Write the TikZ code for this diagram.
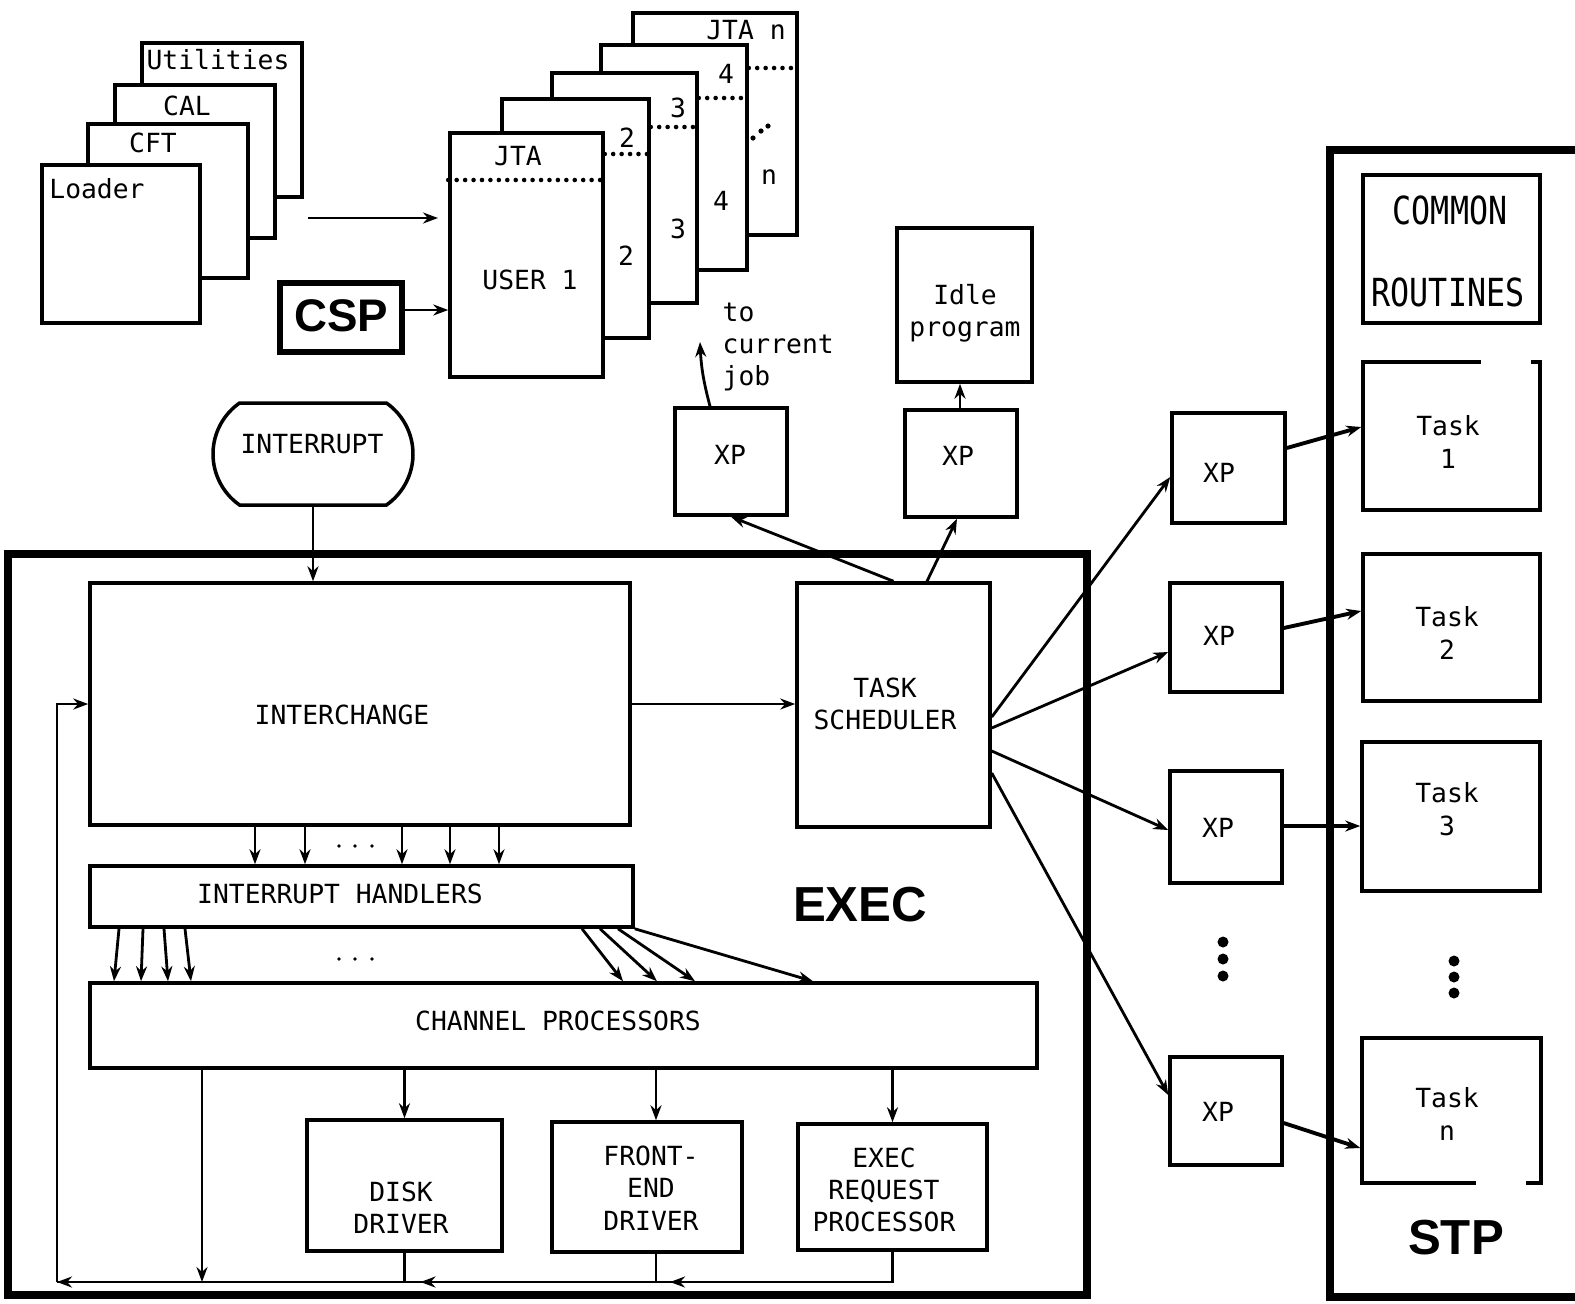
\documentclass[tikz,border=0pt]{standalone}
\usepackage{fontspec}
\usepackage{graphicx}
\newfontfamily\labfont{DejaVu Sans Mono}
\newfontfamily\hvfont{Liberation Sans}
\usetikzlibrary{arrows.meta,shapes.misc,fit,calc}
\begin{document}
\begin{tikzpicture}[x=0.1mm,y=-0.1mm,
  box/.style={draw,line width=1pt,fill=white,inner sep=0pt},
  lbl/.style={font=\labfont\fontsize{7.5}{9.2}\selectfont,align=center,inner sep=0pt},
  biglbl/.style={font=\hvfont\bfseries\fontsize{14}{16}\selectfont,inner sep=0pt},
  arr/.style={-{Stealth[length=1.5mm,width=1.1mm]},line width=0.8pt},
  tarr/.style={-{Stealth[length=1.5mm,width=1.1mm]},line width=1.1pt},
  jsep/.style={line width=1.3pt,dash pattern=on 0pt off 2.4pt,line cap=round},
  heavy/.style={line width=2.2pt},
  plain/.style={line width=0.8pt}]
\useasboundingbox (0,0) rectangle (1575,1303);

% ---------- loader stack ----------
\node[box,fit={(142,43) (302,197)}] (util) {};
\node[box,fit={(115,85) (275,238)}] (cal) {};
\node[box,fit={(88,124) (248,278)}] (cft) {};
\node[box,fit={(42,165) (200,323)}] (loader) {};
\node[lbl] (tutil) at (218,60) {Utilities};
\node[lbl] (tcal) at (187,106) {CAL};
\node[lbl] (tcft) at (153,143) {CFT};
\node[lbl] (tloader) at (97,189) {Loader};

\coordinate (a1) at (308,218);
\coordinate (a2) at (438,218);
\draw[arr] (a1) -- (a2);

% ---------- CSP ----------
\node[draw,line width=1.9pt,inner sep=0pt,fit={(280,283) (402,352)}] (csp) {};
\node[font=\hvfont\bfseries\fontsize{13}{15}\selectfont,inner sep=0pt] (tcsp) at (341,316) {CSP};

% ---------- JTA stack ----------
\node[box,fit={(633,13) (797,235)}] (jn) {};
\node[box,fit={(601,45) (747,270)}] (j4) {};
\node[box,fit={(552,73) (697,303)}] (j3) {};
\node[box,fit={(502,99) (649,338)}] (j2) {};
\node[box,fit={(450,133) (603,377)}] (user1) {};
\draw[jsep] (user1.west |- 0,180) -- (user1.east |- 0,180);
\draw[jsep] (user1.east |- 0,154) -- (j2.east |- 0,154);
\draw[jsep] (j2.east |- 0,127) -- (j3.east |- 0,127);
\draw[jsep] (j3.east |- 0,98) -- (j4.east |- 0,98);
\draw[jsep] (j4.east |- 0,68) -- (jn.east |- 0,68);
\node[lbl] (tjta) at (518,156) {JTA};
\node[lbl] (tuser) at (530,280) {USER 1};
\node[lbl] (t2a) at (627,138) {2};
\node[lbl] (t2b) at (626,256) {2};
\node[lbl] (t3a) at (678,108) {3};
\node[lbl] (t3b) at (678,229) {3};
\node[lbl] (t4a) at (726,74) {4};
\node[lbl] (t4b) at (721,201) {4};
\node[lbl] (tjtan) at (746,30) {JTA n};
\node[lbl] (tn) at (769,177) {n};
\fill (753,138) circle (2.6) (761,131) circle (2.6) (768,126) circle (2.6);

\draw[arr] (csp.east |- 0,310) -- (user1.west |- 0,310);

% ---------- idle / XPs top ----------
\node[box,fit={(897,228) (1032,382)}] (idle) {};
\node[lbl] (tidle) at (965,313) {Idle\\program};
\node[box,fit={(675,408) (787,515)}] (xp1) {};
\node[lbl] (txp1) at (730,455) {XP};
\node[box,fit={(905,410) (1017,517)}] (xp2) {};
\node[lbl] (txp2) at (958,456) {XP};
\coordinate (tocur) at (700,342);
\draw[arr] (xp1.north -| 710,0) to[bend left=6] (tocur);
\node[lbl,align=left,anchor=north west] (tcur) at (722,302) {to\\current\\job};
\draw[arr] (xp2.north -| 960,0) -- (idle.south -| 960,0);

% ---------- INTERRUPT ----------
\node[draw,line width=1pt,rounded rectangle,rounded rectangle arc length=110,
      minimum width=20mm,minimum height=10.2mm,inner sep=0pt] (intr) at (313,454) {};
\node[lbl] (tintr) at (312,444) {INTERRUPT};

% ---------- EXEC frame ----------
\draw[heavy] (8,554) rectangle (1087,1295);
\node[biglbl] (texec) at (860,905) {EXEC};

\node[box,fit={(90,583) (630,825)}] (ic) {};
\node[lbl] (tic) at (342,715) {INTERCHANGE};
\node[box,fit={(90,866) (633,927)}] (ih) {};
\node[lbl] (tih) at (340,894) {INTERRUPT HANDLERS};
\node[box,fit={(90,983) (1037,1068)}] (cp) {};
\node[lbl] (tcp) at (558,1021) {CHANNEL PROCESSORS};
\node[box,fit={(797,583) (990,827)}] (ts) {};
\node[lbl] (tts) at (885,704) {TASK\\SCHEDULER};
\node[box,fit={(307,1120) (502,1251)}] (dd) {};
\node[lbl] (tdd) at (401,1208) {DISK\\DRIVER};
\node[box,fit={(552,1122) (742,1252)}] (fe) {};
\node[lbl] (tfe) at (651,1188) {FRONT-\\END\\DRIVER};
\node[box,fit={(798,1124) (987,1250)}] (erp) {};
\node[lbl] (terp) at (884,1190) {EXEC\\REQUEST\\PROCESSOR};

\draw[arr] (intr.south) -- (intr.south |- ic.north);
\draw[arr] (ic.east) -- (ic.east -| ts.west);
\foreach \x in {255,305,402,450,499}
  \draw[arr] (ic.south -| \x,0) -- (ih.north -| \x,0);
\foreach \x/\y in {339/846,355/846,372/846,339/959,355/959,372/959}
  \fill (\x,\y) circle (1.8);
\draw[arr] (ih.south -| 119,0) -- (cp.north -| 114,0);
\draw[arr] (ih.south -| 143,0) -- (cp.north -| 141,0);
\draw[arr] (ih.south -| 164,0) -- (cp.north -| 168,0);
\draw[arr] (ih.south -| 185,0) -- (cp.north -| 191,0);
\draw[arr] (ih.south -| 582,0) -- (cp.north -| 623,0);
\draw[arr] (ih.south -| 600,0) -- (cp.north -| 657,0);
\draw[arr] (ih.south -| 618,0) -- (cp.north -| 695,0);
\draw[arr] (ih.south east) -- (cp.north -| 813,0);

\draw[arr] (cp.south -| dd.south) -- (dd.north);
\draw[arr] (cp.south -| 656,0) -- (fe.north -| 656,0);
\draw[arr] (cp.south -| erp.south) -- (erp.north);

\coordinate (busL) at (57,1282);
\draw[plain] (erp.south) -- (erp.south |- busL) -- (busL);
\draw[plain] (fe.south -| 656,0) -- (busL -| 656,0);
\draw[plain] (dd.south) -- (dd.south |- busL);
\draw[arr] (erp.south |- busL) -- ($(busL -| 656,0)+(14,0)$);
\draw[arr] (busL -| 656,0) -- ($(busL -| dd.south)+(16,0)$);
\draw[arr] (busL -| dd.south) -- (busL);
\draw[arr] (cp.south -| 202,0) -- (busL -| 202,0);
\draw[arr] (busL) |- (ic.west);

\draw[arr] (ts.north) -- (xp1.south);
\draw[arr] (ts.north -| 927,0) -- (xp2.south -| 957,0);

% ---------- right XPs ----------
\node[box,fit={(1172,413) (1285,523)}] (xpa) {};
\node[lbl] (txpa) at (1219,473) {XP};
\node[box,fit={(1170,583) (1282,692)}] (xpb) {};
\node[lbl] (txpb) at (1219,636) {XP};
\node[box,fit={(1170,771) (1282,883)}] (xpc) {};
\node[lbl] (txpc) at (1218,828) {XP};
\node[box,fit={(1170,1057) (1282,1165)}] (xpd) {};
\node[lbl] (txpd) at (1218,1112) {XP};
\fill (1223,942) circle (5.5) (1223,959) circle (5.5) (1223,976) circle (5.5);

\draw[arr] (ts.east |- 0,717) -- (xpa.west |- 0,477);
\draw[arr] (ts.east |- 0,728) -- (xpb.west |- 0,652);
\draw[arr] (ts.east |- 0,751) -- (xpc.west |- 0,830);
\draw[arr] (ts.east |- 0,773) -- (xpd.west |- 0,1095);

% ---------- STP ----------
\draw[heavy] (1575,150) -- (1330,150) -- (1330,1297) -- (1575,1297);
\node[biglbl] (tstp) at (1456,1238) {STP};
\node[box,fit={(1363,175) (1540,323)}] (common) {};
\node[lbl,font=\labfont\fontsize{11}{13}\selectfont] (tcommon) at (1450,210) {\scalebox{0.82}[1]{COMMON}};
\node[lbl,font=\labfont\fontsize{11}{13}\selectfont] (troutines) at (1448,292) {\scalebox{0.82}[1]{ROUTINES}};
\node[box,fit={(1363,362) (1540,510)}] (t1) {};
\draw[white,line width=2pt] (t1.north -| 1481,0) -- (t1.north -| 1531,0);
\node[lbl] (tt1) at (1448,442) {Task\\1};
\node[box,fit={(1363,554) (1540,701)}] (t2) {};
\node[lbl] (tt2) at (1447,633) {Task\\2};
\node[box,fit={(1362,742) (1540,891)}] (t3) {};
\node[lbl] (tt3) at (1447,809) {Task\\3};
\node[box,fit={(1362,1038) (1541,1183)}] (tn) {};
\draw[white,line width=2pt] (tn.south -| 1476,0) -- (tn.south -| 1526,0);
\node[lbl] (ttn) at (1447,1114) {Task\\n};
\fill (1454,961) circle (5.5) (1454,977) circle (5.5) (1454,993) circle (5.5);

\draw[tarr] (xpa.east |- 0,448) -- (t1.west |- 0,427);
\draw[tarr] (xpb.east |- 0,628) -- (t2.west |- 0,611);
\draw[tarr] (xpc.east |- 0,826) -- (t3.west |- 0,826);
\draw[tarr] (xpd.east |- 0,1123) -- (tn.west |- 0,1148);
\end{tikzpicture}
\end{document}
